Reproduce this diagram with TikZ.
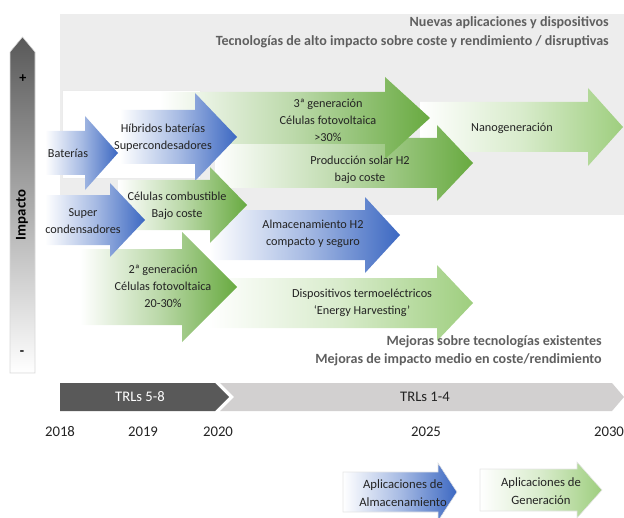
\documentclass[tikz,border=0pt]{standalone}
\usepackage{fontspec}
\setmainfont{Carlito}
\usetikzlibrary{positioning}
\definecolor{bgGray}{RGB}{237,237,237}
\definecolor{txtDark}{RGB}{35,35,35}
\definecolor{txtGray}{RGB}{95,95,95}
\definecolor{almBlue}{RGB}{60,104,194}
\definecolor{genGreen}{RGB}{104,170,64}
\definecolor{genLight}{RGB}{158,206,126}
\definecolor{trlDark}{RGB}{89,89,89}
\definecolor{trlLight}{RGB}{210,208,208}
\tikzstyle{blue arrow} = [left color=white, right color=almBlue, middle color=almBlue!45!white]
\tikzstyle{green arrow} = [left color=white, right color=genGreen, middle color=genGreen!45!white]
\tikzstyle{light arrow} = [left color=white, right color=genLight, middle color=genLight!40!white]
\tikzstyle{txt} = [align=center, font=\fontsize{8.7}{12.2}\selectfont, text=txtDark, inner sep=0pt]
\tikzstyle{note} = [align=right, font=\bfseries\fontsize{10}{13.5}\selectfont, text=txtGray, inner sep=0pt]
\tikzstyle{year} = [font=\fontsize{10.5}{12}\selectfont, text=txtDark, inner sep=0pt]
\tikzstyle{legend} = [align=center, font=\fontsize{9}{12.5}\selectfont, text=txtDark, inner sep=0pt]
% tail x, head x, tip x, centre y, half body, half head
\newcommand{\blockarrow}[6]{(#1,#4-#5) -- (#2,#4-#5) -- (#2,#4-#6) -- (#3,#4) -- (#2,#4+#6) -- (#2,#4+#5) -- (#1,#4+#5) -- cycle}
\begin{document}
\begin{tikzpicture}[x=0.025cm, y=-0.025cm]
    \useasboundingbox (0,0) rectangle (624,518);

    % Backgrounds
    \fill[bgGray] (60,14) rectangle (624,215);
    \filldraw[fill=white, draw=black!8] (62,90) rectangle (200,178);

    % Impact axis
    \shade[top color=trlDark, bottom color=white, draw=black!15]
      (10,52) -- (22.5,37) -- (35,52) -- (35,373) -- (10,373) -- cycle;
    \node[font=\bfseries\fontsize{10}{12}\selectfont] (plus) at (23,79) {+};
    \node[font=\bfseries\fontsize{10}{12}\selectfont] (minus) at (22,353) {-};
    \node[rotate=90, font=\bfseries\fontsize{10.5}{12}\selectfont] (impacto) at (22,215) {Impacto};

    % Arrows, back to front
    \shade[light arrow] \blockarrow{420}{588}{623}{127}{25}{39};
    \shade[green arrow] \blockarrow{215}{437}{473}{163}{25}{38};
    \shade[green arrow] \blockarrow{160}{385}{430}{118}{26}{41};
    \shade[blue arrow] \blockarrow{210}{365}{400}{235}{25}{38};
    \shade[light arrow] \blockarrow{208}{437}{473}{303}{25}{38};
    \shade[green arrow] \blockarrow{80}{182}{237}{287}{38}{55};
    \shade[blue arrow] \blockarrow{120}{195}{237}{137}{27}{44};
    \shade[green arrow] \blockarrow{118}{210}{247}{205}{25}{38};
    \shade[blue arrow] \blockarrow{45}{85}{118}{153}{22}{37};
    \shade[blue arrow] \blockarrow{45}{110}{145}{220}{25}{37};

    % Arrow texts
    \node[txt] (nano) at (512,128) {Nanogeneración};
    \node[txt] (gen3) at (328,120) {3ª generación\\Células fotovoltaica\\>30\%};
    \node[txt] (solar) at (360,170) {Producción solar H2\\bajo coste};
    \node[txt] (almh2) at (313,234) {Almacenamiento H2\\compacto y seguro};
    \node[txt] (termo) at (362,303) {Dispositivos termoeléctricos\\‘Energy Harvesting’};
    \node[txt] (gen2) at (163,286) {2ª generación\\Células fotovoltaica\\20-30\%};
    \node[txt] (hibr) at (163,138) {Híbridos baterías\\Supercondesadores};
    \node[txt] (comb) at (177,206) {Células combustible\\Bajo coste};
    \node[txt] (bat) at (68,153) {Baterías};
    \node[txt] (super) at (83,221) {Super\\condensadores};

    % Notes
    \node[note, anchor=east] (nuevas) at (609,32) {Nuevas aplicaciones y dispositivos\\Tecnologías de alto impacto sobre coste y rendimiento / disruptivas};
    \node[note, anchor=east, font=\bfseries\fontsize{10}{12.8}\selectfont] (mejoras) at (602,351) {Mejoras sobre tecnologías existentes\\Mejoras de impacto medio en coste/rendimiento};

    % Timeline
    \fill[trlDark] (60,383) -- (215,383) -- (229,397) -- (215,411) -- (60,411) -- cycle;
    \fill[trlLight] (220,383) -- (612,383) -- (624,397) -- (612,411) -- (220,411) -- (234,397) -- cycle;
    \node[font=\fontsize{10.4}{12}\selectfont, text=white] (trl58) at (140,397) {TRLs 5-8};
    \node[font=\fontsize{10.4}{12}\selectfont, text=txtDark] (trl14) at (425,397) {TRLs 1-4};

    \node[year] (y2018) at (60,432) {2018};
    \node[year] (y2019) at (143,432) {2019};
    \node[year] (y2020) at (218,432) {2020};
    \node[year] (y2025) at (426,432) {2025};
    \node[year] (y2030) at (609,432) {2030};

    % Legend
    \shade[blue arrow, draw=black!10] \blockarrow{343}{438}{457}{492}{20}{29};
    \shade[light arrow, draw=black!10] \blockarrow{480}{577}{602}{490}{21}{28};
    \node[legend] (legalm) at (403,493) {Aplicaciones de\\Almacenamiento};
    \node[legend] (leggen) at (541,491) {Aplicaciones de\\Generación};
\end{tikzpicture}
\end{document}
